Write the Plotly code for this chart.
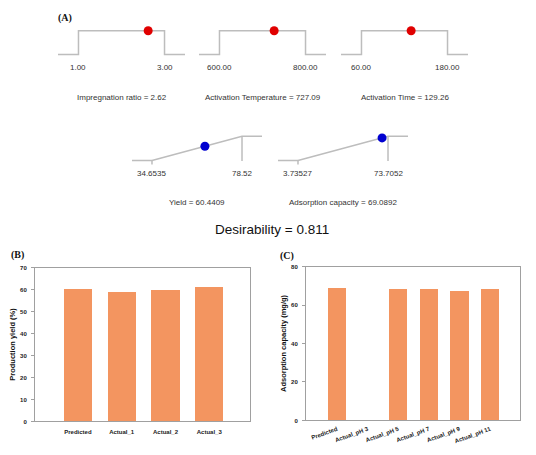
import plotly.graph_objects as go

# The page body has an 8px margin, so the figure is drawn 8px in from the top-left.
OFF = 8
W, H = 536 - OFF, 455 - OFF


def px(x):
    return (x - OFF) / W


def py(y):
    return 1 - (y - OFF) / H


# ---------------- data ----------------
factor_names = ["Impregnation ratio", "Activation Temperature", "Activation Time"]
factor_low = [1.00, 600.00, 60.00]
factor_high = [3.00, 800.00, 180.00]
factor_opt = [2.62, 727.09, 129.26]

resp_names = ["Yield", "Adsorption capacity"]
resp_low = [34.6535, 3.73527]
resp_high = [78.52, 73.7052]
resp_opt = [60.4409, 69.0892]
resp_low_labels = ["34.6535", "3.73527"]
resp_high_labels = ["78.52", "73.7052"]
resp_opt_labels = ["60.4409", "69.0892"]
desirability = 0.811

yield_cats = ["Predicted", "Actual_1", "Actual_2", "Actual_3"]
yield_vals = [60.44, 59.3, 59.9, 61.2]
ads_cats = ["Predicted", "Actual_pH 3", "Actual_pH 5", "Actual_pH 7", "Actual_pH 9", "Actual_pH 11"]
ads_vals = [69.09, None, 68.5, 68.6, 67.7, 68.5]

# ---------------- styles ----------------
FONT = "Liberation Sans, Arial, sans-serif"
SERIF = "Liberation Serif, Times New Roman, serif"
LINE_GREY = "#BDBDBD"
TXT = "#333333"
BAR = "#F39560"
FRAME = "#A0A0A0"

fig = go.Figure()
layout = {}
annotations = []


def note(**kw):
    kw.setdefault("showarrow", False)
    kw.setdefault("xanchor", "center")
    kw.setdefault("yanchor", "middle")
    annotations.append(kw)


# top row: factor desirability (step)
top_boxes = [(58, 185), (199, 326), (341, 468)]
top_base, top_top = 52, 28
unit = top_base - top_top
yr = [-0.6, 1.4]
top_dom = [py(top_base - yr[0] * unit), py(top_base - yr[1] * unit)]
for i in range(3):
    k = i + 1
    ax = "" if k == 1 else str(k)
    lo, hi, v = factor_low[i], factor_high[i], factor_opt[i]
    span = hi - lo
    pad = 0.238 * span
    x0, x1 = lo - pad, hi + pad
    fig.add_trace(go.Scatter(
        x=[x0, lo, lo, hi, hi, x1], y=[0, 0, 1, 1, 0, 0], mode="lines",
        line=dict(color=LINE_GREY, width=1.5), xaxis="x" + ax, yaxis="y" + ax,
        hoverinfo="skip", showlegend=False))
    fig.add_trace(go.Scatter(
        x=[v], y=[1], mode="markers", marker=dict(color="#E00000", size=9),
        xaxis="x" + ax, yaxis="y" + ax, showlegend=False, cliponaxis=False))
    layout["xaxis" + ax] = dict(domain=[px(top_boxes[i][0]), px(top_boxes[i][1])],
                                range=[x0, x1], visible=False, anchor="y" + ax)
    layout["yaxis" + ax] = dict(domain=top_dom, range=yr, visible=False, anchor="x" + ax)
    for val in (lo, hi):
        note(x=val, y=0, xref="x" + ax, yref="y" + ax, yshift=-13, text=f"{val:.2f}",
             font=dict(family=FONT, size=8, color=TXT))
    note(x=0.5, y=py(96), xref="x" + ax + " domain", yref="paper",
         text=f"{factor_names[i]} = {v:.2f}", font=dict(family=FONT, size=8, color=TXT))

# second row: response desirability (ramp)
bot_boxes = [(132, 262), (278, 408)]
bot_base, bot_top = 159.5, 135
unit2 = bot_base - bot_top
bot_dom = [py(bot_base - yr[0] * unit2), py(bot_base - yr[1] * unit2)]
for i in range(2):
    k = i + 4
    ax = str(k)
    lo, hi, v = resp_low[i], resp_high[i], resp_opt[i]
    span = hi - lo
    pad = 0.222 * span
    x0, x1 = lo - pad, hi + pad
    d = (v - lo) / span
    fig.add_trace(go.Scatter(
        x=[x0, lo, None, lo, lo, None, lo, hi, x1, None, hi, hi],
        y=[0, 0, None, 0, -0.17, None, 0, 1, 1, None, 1, -0.02], mode="lines",
        line=dict(color=LINE_GREY, width=1.5), xaxis="x" + ax, yaxis="y" + ax,
        hoverinfo="skip", showlegend=False, connectgaps=False))
    fig.add_trace(go.Scatter(
        x=[v], y=[d], mode="markers", marker=dict(color="#0000D0", size=9),
        xaxis="x" + ax, yaxis="y" + ax, showlegend=False, cliponaxis=False))
    layout["xaxis" + ax] = dict(domain=[px(bot_boxes[i][0]), px(bot_boxes[i][1])],
                                range=[x0, x1], visible=False, anchor="y" + ax)
    layout["yaxis" + ax] = dict(domain=bot_dom, range=yr, visible=False, anchor="x" + ax)
    for val, lab in ((lo, resp_low_labels[i]), (hi, resp_high_labels[i])):
        note(x=val, y=0, xref="x" + ax, yref="y" + ax, yshift=-13, text=lab,
             font=dict(family=FONT, size=8, color=TXT))
    note(x=0.5, y=py(202), xref="x" + ax + " domain", yref="paper",
         text=f"{resp_names[i]} = {resp_opt_labels[i]}", font=dict(family=FONT, size=8, color=TXT))

note(x=px(272), y=py(229), xref="paper", yref="paper",
     text=f"Desirability = {desirability:.3f}", font=dict(family=FONT, size=13.5, color="#111111"))

# panel labels
for lab, x, y in (("(A)", 65, 15), ("(B)", 17, 255), ("(C)", 287, 256)):
    note(x=px(x), y=py(y), xref="paper", yref="paper", text=f"<b>{lab}</b>",
         font=dict(family=SERIF, size=10, color="#111111"))

# bar charts
fig.add_trace(go.Bar(x=yield_cats, y=yield_vals, width=0.64, marker=dict(color=BAR, line=dict(width=0)),
                     xaxis="x6", yaxis="y6", showlegend=False))
fig.add_trace(go.Bar(x=ads_cats, y=ads_vals, width=0.6, marker=dict(color=BAR, line=dict(width=0)),
                     xaxis="x7", yaxis="y7", showlegend=False))

tickfont = dict(family=FONT, size=6, color="#222222", weight="bold")
titlefont = dict(family=FONT, size=7.5, color="#111111", weight="bold")
common_x = dict(type="category", showline=True, mirror=True, linecolor=FRAME, linewidth=1,
                ticks="", tickfont=tickfont, showgrid=False, zeroline=False)
common_y = dict(showline=True, mirror=True, linecolor=FRAME, linewidth=1, ticks="outside",
                ticklen=3, tickcolor=FRAME, tickfont=tickfont, showgrid=False, zeroline=False,
                ticklabelstandoff=3)

layout["xaxis6"] = dict(common_x, domain=[px(35), px(250)], range=[-0.98, 3.93], anchor="y6",
                        ticklabelstandoff=4)
layout["yaxis6"] = dict(common_y, domain=[py(424), py(268)], range=[0, 70], dtick=10, anchor="x6",
                        title=dict(text="Production yield (%)", font=titlefont, standoff=3))
layout["xaxis7"] = dict(common_x, domain=[px(306), px(520)], range=[-1.01, 5.98], anchor="y7",
                        tickangle=-20, ticklabelstandoff=2)
layout["yaxis7"] = dict(common_y, domain=[py(423), py(267)], range=[0, 80], dtick=20, anchor="x7",
                        title=dict(text="Adsorption capacity (mg/g)", font=titlefont, standoff=3))

fig.update_layout(**layout)
fig.update_layout(width=W, height=H, margin=dict(l=0, r=0, t=0, b=0),
                  paper_bgcolor="white", plot_bgcolor="white", annotations=annotations,
                  bargap=0, showlegend=False)

fig.write_html("out.html")
